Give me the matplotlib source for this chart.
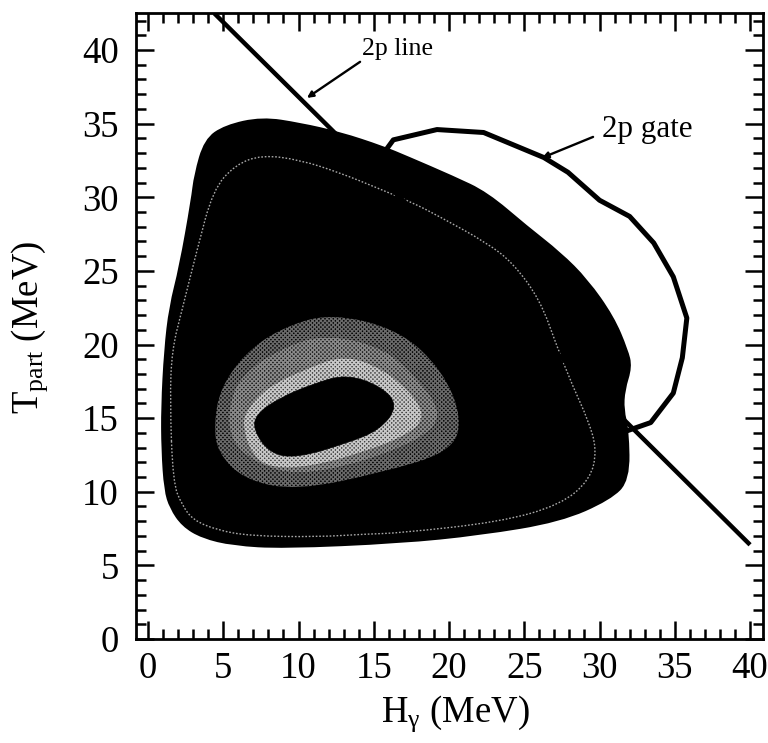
import matplotlib
matplotlib.use("Agg")
import matplotlib.pyplot as plt
from matplotlib.path import Path
from matplotlib.patches import PathPatch
from matplotlib.ticker import MultipleLocator

plt.rcParams['font.family'] = ['Liberation Serif', 'DejaVu Serif']
plt.rcParams['mathtext.fontset'] = 'custom'
plt.rcParams['mathtext.rm'] = 'Liberation Serif'
plt.rcParams['mathtext.it'] = 'Liberation Serif'
plt.rcParams['mathtext.default'] = 'rm'

x_ticks = [0, 5, 10, 15, 20, 25, 30, 35, 40]
y_ticks = [0, 5, 10, 15, 20, 25, 30, 35, 40]

# outer black contour region
outer_x = [0.93, 1.13, 1.46, 2.13, 2.92, 3.12, 3.79, 5.12, 7.57, 10.1, 12.76, 15.61, 17.21, 20.27, 22.52, 25.18, 27.38, 29.17, 30.9, 31.83, 32.1, 31.63, 31.56, 31.89, 31.95, 30.7, 27.38, 22.06, 16.74, 8.97, 5.65, 3.6, 2.3, 1.5, 1.13, 0.95]
outer_y = [15.76, 19.63, 22.55, 25.27, 29.82, 31.52, 33.9, 34.85, 35.4, 35.0, 34.38, 33.42, 32.74, 31.39, 30.3, 27.99, 26.22, 24.39, 21.88, 19.63, 18.48, 16.92, 15.56, 14.2, 10.8, 9.5, 8.0, 7.1, 6.55, 6.2, 6.4, 6.9, 7.7, 8.9, 10.12, 12.84]

# thin stippled contour
ring_x = [1.46, 1.59, 2.26, 3.26, 4.32, 5.78, 7.57, 10.1, 12.76, 15.22, 17.61, 19.4, 22.52, 24.25, 26.05, 27.18, 28.24, 29.24, 29.83, 29.37, 27.38, 23.39, 16.74, 14.55, 11.23, 6.78, 4.58, 2.99, 2.26, 1.66]
ring_y = [16.24, 19.63, 22.35, 26.43, 30.5, 32.2, 32.88, 32.54, 31.66, 30.64, 29.62, 28.67, 26.9, 25.54, 23.03, 19.84, 17.12, 14.88, 12.84, 10.8, 9.1, 7.95, 7.2, 7.13, 6.93, 7.0, 7.4, 8.08, 9.1, 10.6]

# nested central band contours
band1_x = [12.09, 16.7, 19.6, 20.9, 20.1, 15.5, 9.9, 6.4, 4.6, 4.4, 4.8, 6.4, 8.7]
band1_y = [22.15, 21.0, 18.2, 14.9, 12.7, 11.3, 10.1, 10.8, 12.7, 14.67, 17.0, 19.35, 21.05]
band2_x = [11.9, 15.7, 18.1, 19.5, 18.6, 14.3, 9.9, 7.2, 5.5, 5.3, 6.2, 9.1]
band2_y = [20.7, 19.8, 17.5, 15.4, 13.8, 12.0, 11.1, 11.9, 13.4, 15.7, 18.0, 19.9]
band3_x = [13.1, 15.7, 17.7, 18.4, 17.3, 14.4, 10.8, 8.2, 6.9, 6.3, 6.5, 7.9, 10.6]
band3_y = [19.3, 18.3, 16.5, 15.0, 13.9, 12.7, 11.7, 11.6, 12.5, 14.4, 15.5, 17.1, 18.4]
hole_x = [7.0, 8.1, 9.9, 13.2, 15.4, 16.6, 15.6, 13.2, 10.9, 8.8, 7.2]
hole_y = [14.2, 12.6, 12.3, 13.3, 14.2, 15.8, 17.1, 18.0, 17.3, 16.4, 15.3]

# 2p gate polyline
gate_x = [15.8, 16.3, 19.2, 22.3, 26.3, 27.9, 30.0, 32.0, 33.6, 34.9, 35.8, 35.5, 34.9, 33.4, 32.0]
gate_y = [33.2, 33.9, 34.6, 34.4, 32.7, 31.7, 29.8, 28.7, 26.9, 24.6, 21.8, 19.1, 16.7, 14.7, 14.2]

# 2p line end points
line_x = [4.4, 40.0]
line_y = [42.5, 6.4]


def closed_smooth(xs, ys):
    """Closed quadratic spline with the read points as control points."""
    n = len(xs)
    mids = [((xs[i] + xs[(i + 1) % n]) / 2, (ys[i] + ys[(i + 1) % n]) / 2) for i in range(n)]
    verts = [mids[-1]]
    codes = [Path.MOVETO]
    for i in range(n):
        verts += [(xs[i], ys[i]), mids[i]]
        codes += [Path.CURVE3, Path.CURVE3]
    return Path(verts, codes)


fig = plt.figure(figsize=(7.68, 7.43), dpi=100)
ax = fig.add_axes([135.5 / 768, 1 - 639 / 743, (763 - 135.5) / 768, (639 - 12.5) / 743])
ax.set_xlim(-0.83, 40.86)
ax.set_ylim(0, 42.55)

ax.add_patch(PathPatch(closed_smooth(outer_x, outer_y), facecolor='black', edgecolor='black', lw=1.5, zorder=2))
ax.add_patch(PathPatch(closed_smooth(ring_x, ring_y), facecolor='none', edgecolor='#a8a8a8', lw=1.0, ls=(0, (1.2, 1.3)), zorder=3))
ax.add_patch(PathPatch(closed_smooth(band1_x, band1_y), facecolor='#000000', edgecolor='#6a6a6a', hatch='xxxxxxxx', lw=0, zorder=3))
ax.add_patch(PathPatch(closed_smooth(band2_x, band2_y), facecolor='#181818', edgecolor='#8a8a8a', hatch='xxxxxxxx', lw=0, zorder=4))
ax.add_patch(PathPatch(closed_smooth(band3_x, band3_y), facecolor='#404040', edgecolor='#c8c8c8', hatch='xxxxxxxx', lw=0, zorder=5))
ax.add_patch(PathPatch(closed_smooth(hole_x, hole_y), facecolor='black', edgecolor='black', lw=0.5, zorder=6))

ax.plot(line_x, line_y, color='black', lw=3.2, solid_capstyle='butt', zorder=7)
ax.plot(gate_x, gate_y, color='black', lw=3.6, solid_joinstyle='round', zorder=7)

arrow = dict(arrowstyle='-|>', color='black', lw=1.7, mutation_scale=9, shrinkA=0, shrinkB=0)
ax.text(14.2, 39.67, '2p line', fontsize=18.6, ha='left', va='baseline', zorder=8)
ax.text(30.17, 34.1, '2p gate', fontsize=22.3, ha='left', va='baseline', zorder=8)
ax.annotate('', xy=(10.56, 36.75), xytext=(14.09, 39.2), arrowprops=arrow, zorder=8)
ax.annotate('', xy=(26.18, 32.68), xytext=(29.57, 34.1), arrowprops=arrow, zorder=8)

ax.set_xticks(x_ticks)
ax.set_yticks(y_ticks)
ax.xaxis.set_minor_locator(MultipleLocator(1))
ax.yaxis.set_minor_locator(MultipleLocator(1))
ax.tick_params(which='major', direction='in', length=13, width=1.8, top=True, right=True,
               labelsize=26.5, pad=9, zorder=9)
ax.tick_params(which='minor', direction='in', length=7, width=1.8, top=True, right=True)
ax.tick_params(axis='y', which='major', pad=12)
for s in ax.spines.values():
    s.set_linewidth(2.0)
    s.set_zorder(10)

fig.text(455 / 768, 1 - 722 / 743, r'H$_{\gamma}$ (MeV)', fontsize=26.5, ha='center', va='baseline')
fig.text(30 / 768, 1 - 327 / 743, r'T$_{\mathrm{part}}$ (MeV)', fontsize=26.5, rotation=90, ha='center', va='center')

fig.savefig('out.png', dpi=100)
